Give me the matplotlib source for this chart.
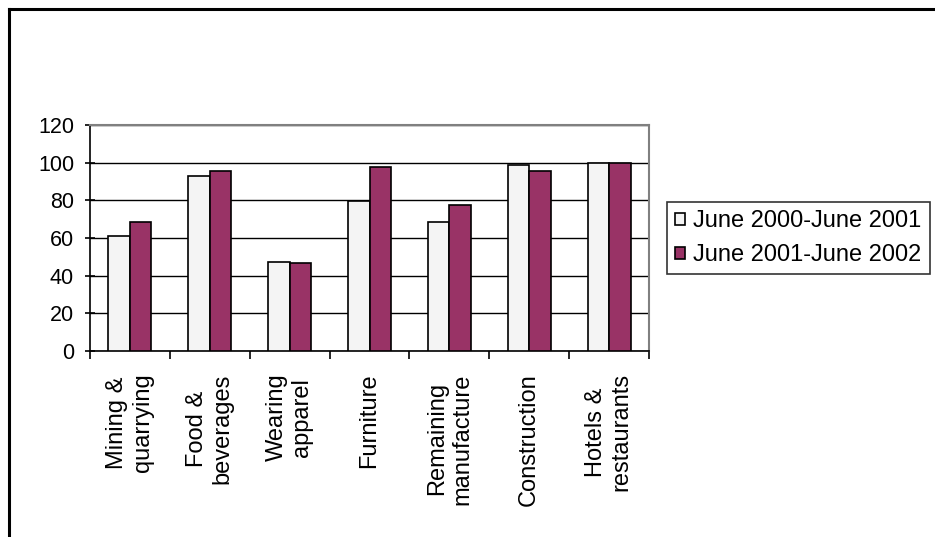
import matplotlib.pyplot as plt
import numpy as np
from matplotlib.lines import Line2D

plt.rcParams['font.family'] = ['Liberation Sans', 'DejaVu Sans']

categories = ["Mining &\nquarrying", "Food &\nbeverages", "Wearing\napparel", "Furniture",
              "Remaining\nmanufacture", "Construction", "Hotels &\nrestaurants"]
period1 = [61, 93, 47.5, 79.5, 68.5, 98.5, 100]
period2 = [68.5, 95.5, 46.5, 97.5, 77.5, 95.5, 100]
labels = ["June 2000-June 2001", "June 2001-June 2002"]

fig = plt.figure(figsize=(9.35, 5.37), dpi=100)
ax = fig.add_axes([90/935, 1-351/537, 559/935, 226/537])

x = np.arange(len(categories))
w = 0.27
b1 = ax.bar(x - w/2, period1, w, color='#f4f4f4', edgecolor='black', linewidth=1.2, label=labels[0], zorder=3)
b2 = ax.bar(x + w/2, period2, w, color='#993366', edgecolor='black', linewidth=1.2, label=labels[1], zorder=3)

ax.set_xlim(-0.5, len(categories) - 0.5)
ax.set_ylim(0, 120)
ax.set_yticks(range(0, 121, 20))
ax.yaxis.grid(True, color='black', linewidth=1, zorder=0)
ax.set_axisbelow(True)

# group boundaries carry the ticks, labels sit at the group centres
ax.set_xticks(np.arange(-0.5, len(categories)), minor=False)
ax.set_xticklabels([])
ax.set_xticks(x, minor=True)
ax.set_xticklabels(categories, minor=True, rotation=90, fontsize=17, va='top', ha='center',
                   linespacing=1.2)
ax.tick_params(axis='x', which='minor', length=0, pad=16)
ax.tick_params(axis='x', which='major', length=6, width=1.2, direction='out')
ax.tick_params(axis='y', length=7, width=1.2, direction='inout', labelsize=15.5, pad=8)

for s in ['top', 'right']:
    ax.spines[s].set_color('#808080')
    ax.spines[s].set_linewidth(1.5)
for s in ['left', 'bottom']:
    ax.spines[s].set_color('black')
    ax.spines[s].set_linewidth(1.2)

leg = fig.legend(handles=[b1, b2], labels=labels, loc='upper left',
                 bbox_to_anchor=(667/935, 1-202/537), fontsize=17, frameon=True,
                 fancybox=False, handlelength=0.42, handleheight=0.42, handletextpad=0.35,
                 borderpad=0.35, labelspacing=0.5, borderaxespad=0)
leg.get_frame().set_edgecolor('black')
leg.get_frame().set_linewidth(1.2)

# outer frame of chart area
fig.add_artist(Line2D([9/935, 9/935], [0, 1-9/537], color='black', linewidth=2.2))
fig.add_artist(Line2D([9/935, 1], [1-9/537, 1-9/537], color='black', linewidth=2.2))

fig.savefig('out.png', dpi=100)
